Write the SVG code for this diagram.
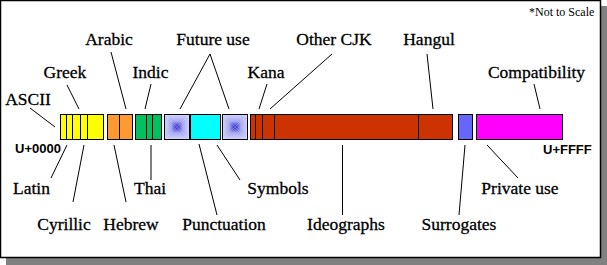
<svg xmlns="http://www.w3.org/2000/svg" width="607" height="265" viewBox="0 0 607 265">
<style>
.lbl{text-anchor:middle}
.code{font-family:"Liberation Sans",Arial,sans-serif;font-size:13px;font-weight:bold;fill:#000}
.note{font-family:"Liberation Serif","Times New Roman",serif;font-size:12px;fill:#000}
.seg{stroke:#000;stroke-width:1}
.div{stroke:#000;stroke-width:1;fill:none}
.lead{stroke:#000;stroke-width:1;fill:none}
</style>
<defs>
<linearGradient id="gT" x1="0" y1="0" x2="0" y2="1"><stop offset="0" stop-color="#d4d4ff"/><stop offset="0.55" stop-color="#a8a8f0"/><stop offset="1" stop-color="#2a2acc"/></linearGradient>
<linearGradient id="gB" x1="0" y1="1" x2="0" y2="0"><stop offset="0" stop-color="#d4d4ff"/><stop offset="0.55" stop-color="#a8a8f0"/><stop offset="1" stop-color="#2a2acc"/></linearGradient>
<linearGradient id="gL" x1="0" y1="0" x2="1" y2="0"><stop offset="0" stop-color="#d4d4ff"/><stop offset="0.55" stop-color="#a8a8f0"/><stop offset="1" stop-color="#2a2acc"/></linearGradient>
<linearGradient id="gR" x1="1" y1="0" x2="0" y2="0"><stop offset="0" stop-color="#d4d4ff"/><stop offset="0.55" stop-color="#a8a8f0"/><stop offset="1" stop-color="#2a2acc"/></linearGradient>
<g id="pyr">
<polygon points="0,0 25,0 12.5,12.5" fill="url(#gT)"/>
<polygon points="0,25 25,25 12.5,12.5" fill="url(#gB)"/>
<polygon points="0,0 0,25 12.5,12.5" fill="url(#gL)"/>
<polygon points="25,0 25,25 12.5,12.5" fill="url(#gR)"/>
<rect x="0" y="0" width="25" height="25" fill="none" stroke="#000" stroke-width="1"/>
</g>
</defs>

<g id="frame">
<rect x="6" y="6" width="601" height="259" fill="#808080"/>
<rect x="0.5" y="0.5" width="600" height="257" fill="#fff" stroke="#000" stroke-width="1.5"/>
<text class="note" x="529" y="16">*Not to Scale</text>
<text class="code" x="15" y="153">U+0000</text>
<text class="code" x="543" y="154">U+FFFF</text>
</g>

<g id="latin-block">
<rect class="seg" x="60.5" y="114.5" width="43" height="25" fill="#ffff00"/>
<path class="div" d="M66.5 114.5V139.5M72.5 114.5V139.5M80.5 114.5V139.5M87.5 114.5V139.5"/>
</g>
<g id="hebrew-arabic">
<rect class="seg" x="107.5" y="114.5" width="25" height="25" fill="#ff9933"/>
<path class="div" d="M119.5 114.5V139.5"/>
</g>
<g id="indic-thai">
<rect class="seg" x="135.5" y="114.5" width="26" height="25" fill="#00c060"/>
<path class="div" d="M146.5 114.5V139.5M152.5 114.5V139.5"/>
</g>
<g id="future1"><use href="#pyr" x="164.5" y="114.5"/></g>
<g id="punct-symbols">
<rect class="seg" x="190.5" y="114.5" width="30" height="25" fill="#00ffff"/>
</g>
<g id="future2"><use href="#pyr" x="222.5" y="114.5"/></g>
<g id="cjk">
<rect class="seg" x="250.5" y="114.5" width="202" height="25" fill="#cc3300"/>
<path class="div" d="M255.5 114.5V139.5M262.5 114.5V139.5M274.5 114.5V139.5M418.5 114.5V139.5"/>
</g>
<g id="surrogates-block">
<rect class="seg" x="458.5" y="114.5" width="14" height="25" fill="#6666ff"/>
</g>
<g id="private-compat">
<rect class="seg" x="476.5" y="114.5" width="86" height="25" fill="#ff00ff"/>
</g>

<g id="labels" font-family="Liberation Serif, serif" font-size="17.5" fill="#000" stroke="#000" stroke-width="0.3">
<text class="lbl" x="109" y="45">Arabic</text>
<text class="lbl" x="213" y="45">Future use</text>
<text class="lbl" x="334" y="45">Other CJK</text>
<text class="lbl" x="429" y="45">Hangul</text>
<text class="lbl" x="65" y="78">Greek</text>
<text class="lbl" x="150.5" y="78">Indic</text>
<text class="lbl" x="266" y="78">Kana</text>
<text class="lbl" x="536.5" y="78">Compatibility</text>
<text class="lbl" x="28" y="105">ASCII</text>
<text class="lbl" x="31.5" y="194">Latin</text>
<text class="lbl" x="150" y="194">Thai</text>
<text class="lbl" x="278" y="194">Symbols</text>
<text class="lbl" x="520" y="194">Private use</text>
<text class="lbl" x="64" y="230">Cyrillic</text>
<text class="lbl" x="131" y="230">Hebrew</text>
<text class="lbl" x="224" y="230">Punctuation</text>
<text class="lbl" x="346" y="230">Ideographs</text>
<text class="lbl" x="459" y="230">Surrogates</text>
</g>

<g id="connectors">
<path class="lead" d="M30 108L55 127"/>
<path class="lead" d="M67 85L79 109"/>
<path class="lead" d="M111 52L126 109"/>
<path class="lead" d="M151 84L145 109"/>
<path class="lead" d="M180 109L210 54L229 109"/>
<path class="lead" d="M267 84L259 109"/>
<path class="lead" d="M332 54L270 109"/>
<path class="lead" d="M427 54L433 109"/>
<path class="lead" d="M534 84L540 109"/>
<path class="lead" d="M67 145L51 178"/>
<path class="lead" d="M84 145L73 202"/>
<path class="lead" d="M114 145L126 202"/>
<path class="lead" d="M151 145L151 180"/>
<path class="lead" d="M199 144L217 215"/>
<path class="lead" d="M217 145L240 180"/>
<path class="lead" d="M342.5 145L342.5 215"/>
<path class="lead" d="M465 145L459 215"/>
<path class="lead" d="M487 145L518 178"/>
</g>
</svg>
